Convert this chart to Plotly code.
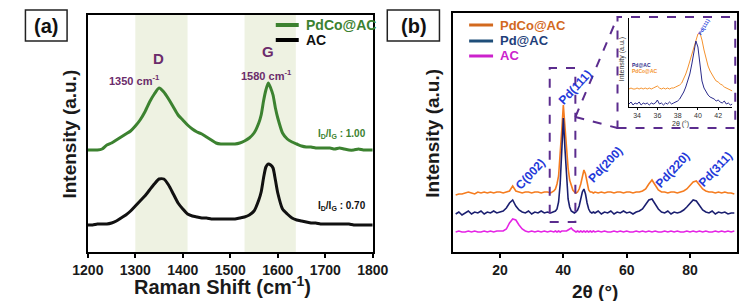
import plotly.graph_objects as go

# ---------------- Panel (a): Raman ----------------
RAMAN_SHIFT = [1200, 1210, 1220, 1230, 1240, 1250, 1260, 1270, 1280, 1290,
               1300, 1310, 1320, 1330, 1340, 1350, 1360, 1370, 1380, 1390,
               1400, 1410, 1420, 1430, 1440, 1450, 1460, 1470, 1480, 1490,
               1500, 1510, 1520, 1530, 1540, 1550, 1560, 1565, 1570, 1575,
               1580, 1585, 1590, 1595, 1600, 1610, 1620, 1630, 1640, 1650,
               1660, 1670, 1680, 1690, 1700, 1710, 1720, 1730, 1740, 1750,
               1760, 1770, 1780, 1790, 1800]
RAMAN_PDCO_AC = [102, 102, 102, 103, 107, 109, 112, 115, 118, 121,
                 126, 132, 140, 150, 158, 164, 160, 153, 145, 137,
                 132, 127, 123, 120, 118, 115, 112, 109, 108, 108,
                 108, 108, 109, 111, 114, 119, 129, 137, 151, 162,
                 169, 164, 157, 144, 134, 119, 113, 110, 108, 106,
                 105, 105, 104, 104, 104, 104, 103, 104, 103, 102,
                 102, 103, 102, 102, 102]
RAMAN_AC = [27, 27, 28, 28, 28, 29, 31, 34, 37, 41,
            46, 51, 56, 62, 68, 73, 73, 67, 58, 49,
            43, 38, 36, 35, 34, 34, 33, 33, 33, 33,
            33, 33, 34, 35, 37, 41, 52, 60, 74, 85,
            88, 87, 84, 72, 59, 43, 38, 34, 32, 31,
            30, 29, 29, 28, 28, 28, 28, 28, 28, 28,
            27, 27, 27, 27, 27]
RAMAN_TICKS = [1200, 1300, 1400, 1500, 1600, 1700, 1800]
D_BAND = [1300, 1410]
G_BAND = [1530, 1638]

# ---------------- Panel (b): XRD ----------------
TWO_THETA = [6, 7, 8, 9, 10, 11, 12, 13, 14, 15, 16, 17, 18, 19, 20, 21, 22, 23, 24, 25,
             26, 27, 28, 29, 30, 31, 32, 33, 34, 35, 36,
             37.0, 37.5, 38.0, 38.5, 39.0, 39.5, 40.0, 40.5, 41.0, 41.5, 42.0, 42.5, 43.0,
             43.5, 44.0, 44.5, 45.0, 45.5, 46.0, 46.5, 47.0, 47.5, 48.0, 48.5, 49.0, 49.5, 50.0,
             51, 52, 53, 54, 55, 56, 57, 58, 59, 60, 61, 62, 63, 64, 65, 66, 67, 68, 69, 70,
             71, 72, 73, 74, 75, 76, 77, 78, 79, 80, 81, 82, 83, 84, 85, 86, 87, 88, 89, 90,
             91, 92, 93, 94]
XRD_PDCO_AC = [57, 58, 58, 59, 60, 59, 58, 60, 59, 60, 59, 60, 59, 60, 60, 59, 60, 61, 66, 61,
               60, 59, 60, 60, 59, 60, 60, 59, 60, 60, 59,
               61, 63, 68, 76, 95, 122, 147, 128, 100, 84, 72, 66, 62,
               60, 59, 60, 63, 68, 76, 82, 78, 68, 62, 60, 60, 59, 60,
               59, 60, 59, 60, 60, 59, 60, 60, 59, 60, 60, 59, 60, 60, 61, 63, 68, 72, 67, 62,
               60, 60, 59, 60, 60, 59, 60, 61, 63, 67, 70, 71, 67, 63, 61, 60, 60, 59, 60, 59,
               60, 59, 59, 58]
XRD_PD_AC = [38, 40, 37, 39, 41, 38, 40, 39, 41, 38, 40, 39, 41, 39, 40, 41, 44, 49, 52, 46,
             42, 40, 39, 41, 38, 40, 39, 41, 39, 40, 39,
             40, 41, 43, 50, 68, 103, 134, 104, 72, 53, 45, 41, 40,
             39, 40, 42, 46, 53, 60, 63, 58, 49, 43, 40, 39, 40, 39,
             41, 38, 40, 39, 41, 38, 40, 39, 41, 39, 40, 38, 40, 41, 43, 47, 52, 53, 48, 43,
             40, 39, 41, 38, 40, 39, 40, 42, 45, 49, 52, 51, 47, 42, 40, 39, 41, 38, 40, 39,
             40, 38, 39, 39]
XRD_AC = [20, 21, 20, 20, 21, 20, 21, 20, 20, 21, 20, 21, 20, 21, 21, 21, 23, 29, 33, 32,
          27, 23, 21, 20, 21, 20, 21, 20, 21, 20, 21,
          20, 21, 20, 21, 20, 21, 21, 21, 21, 22, 23, 24, 22,
          21, 20, 21, 20, 21, 20, 21, 20, 21, 20, 21, 20, 21, 20,
          21, 20, 21, 20, 20, 21, 20, 21, 20, 21, 20, 20, 21, 20, 21, 20, 21, 20, 21, 20,
          20, 21, 20, 21, 20, 21, 20, 20, 21, 20, 21, 20, 21, 20, 21, 20, 20, 21, 20, 21,
          20, 21, 20, 21]
XRD_TICKS = [20, 40, 60, 80]
ZOOM_BOX = [35.7, 43.8, 30, 184]   # x0, x1, y0, y1 of the dashed zoom region

# ---------------- Inset: zoom of Pd(111) ----------------
INSET_2THETA = [33.2, 33.4, 33.6, 33.8, 34.0, 34.2, 34.4, 34.6, 34.8, 35.0,
                35.2, 35.4, 35.6, 35.8, 36.0, 36.2, 36.4, 36.6, 36.8, 37.0,
                37.2, 37.4, 37.6, 37.8, 38.0, 38.2, 38.4, 38.6, 38.8, 39.0,
                39.2, 39.4, 39.6, 39.8, 40.0, 40.2, 40.4, 40.6, 40.8, 41.0,
                41.2, 41.4, 41.6, 41.8, 42.0, 42.2, 42.4, 42.6, 42.8, 43.0,
                43.2, 43.4]
INSET_PDCO_AC = [18, 19, 18, 18, 19, 18, 19, 18, 19, 18,
                 19, 18, 19, 20, 21, 19, 18, 19, 18, 19,
                 18, 19, 19, 20, 21, 22, 24, 28, 33, 39,
                 46, 53, 60, 67, 73, 74, 67, 57, 48, 41,
                 36, 32, 29, 26, 25, 23, 22, 20, 19, 18,
                 17, 16]
INSET_PD_AC = [3, 5, 2, 4, 3, 5, 2, 4, 3, 4,
               2, 4, 3, 4, 7, 3, 4, 2, 4, 3,
               5, 3, 4, 5, 6, 8, 11, 15, 20, 26,
               33, 43, 54, 66, 60, 42, 26, 19, 15, 12,
               10, 9, 8, 6, 7, 5, 4, 6, 3, 4,
               2, 3]
INSET_TICKS = [34, 36, 38, 40, 42]

W, H = 749, 301
FONT = "Liberation Sans"
GREEN = "#3c8230"
ORANGE = "#f57c1f"
NAVY = "#1b1f70"
MAGENTA = "#e524e5"
PURPLE_TXT = "#6b2c6b"
DASH_PURPLE = "#5b2c8e"
LABEL_BLUE = "#2439d9"


def px(x):
    return x / W


def py(y):
    return 1 - y / H


fig = go.Figure()

# Panel (a) traces
fig.add_trace(go.Scatter(x=RAMAN_SHIFT, y=RAMAN_PDCO_AC, mode="lines", name="PdCo@AC",
                         line=dict(color=GREEN, width=3, shape="spline", smoothing=0.6),
                         xaxis="x", yaxis="y", showlegend=False))
fig.add_trace(go.Scatter(x=RAMAN_SHIFT, y=RAMAN_AC, mode="lines", name="AC",
                         line=dict(color="#111111", width=3, shape="spline", smoothing=0.6),
                         xaxis="x", yaxis="y", showlegend=False))

# Panel (b) traces
fig.add_trace(go.Scatter(x=TWO_THETA, y=XRD_PDCO_AC, mode="lines", name="PdCo@AC",
                         line=dict(color=ORANGE, width=1.6),
                         xaxis="x2", yaxis="y2", showlegend=False))
fig.add_trace(go.Scatter(x=TWO_THETA, y=XRD_PD_AC, mode="lines", name="Pd@AC",
                         line=dict(color=NAVY, width=1.6),
                         xaxis="x2", yaxis="y2", showlegend=False))
fig.add_trace(go.Scatter(x=TWO_THETA, y=XRD_AC, mode="lines", name="AC",
                         line=dict(color=MAGENTA, width=1.6),
                         xaxis="x2", yaxis="y2", showlegend=False))

# Inset traces
fig.add_trace(go.Scatter(x=INSET_2THETA, y=INSET_PDCO_AC, mode="lines", name="PdCo@AC",
                         line=dict(color="#f4922e", width=1),
                         xaxis="x3", yaxis="y3", showlegend=False))
fig.add_trace(go.Scatter(x=INSET_2THETA, y=INSET_PD_AC, mode="lines", name="Pd@AC",
                         line=dict(color="#2a2a8a", width=1),
                         xaxis="x3", yaxis="y3", showlegend=False))

tickfont = dict(family=FONT, size=14, color="#1a1a1a", weight="bold")

fig.update_layout(
    width=W, height=H,
    margin=dict(l=0, r=0, t=0, b=0),
    paper_bgcolor="white", plot_bgcolor="white",
    xaxis=dict(domain=[px(66.7), px(364.3)], range=[1200, 1800], anchor="y",
               tickvals=RAMAN_TICKS, ticks="outside", ticklen=4, tickwidth=2,
               tickcolor="black", tickfont=tickfont, showline=True, linecolor="black",
               linewidth=2, mirror=True, showgrid=False, zeroline=False),
    yaxis=dict(domain=[py(244), py(7)], range=[0, 237], anchor="x",
               showticklabels=False, ticks="", showline=True, linecolor="black",
               linewidth=2, mirror=True, showgrid=False, zeroline=False),
    xaxis2=dict(domain=[px(448.3), px(745)], range=[5.2, 94.9], anchor="y2",
                tickvals=XRD_TICKS, ticks="outside", ticklen=4, tickwidth=2,
                tickcolor="black", tickfont=tickfont, showline=True, linecolor="black",
                linewidth=2, mirror=True, showgrid=False, zeroline=False),
    yaxis2=dict(domain=[py(244), py(5)], range=[0, 239], anchor="x2",
                showticklabels=False, ticks="", showline=True, linecolor="black",
                linewidth=2, mirror=True, showgrid=False, zeroline=False),
    xaxis3=dict(domain=[px(632), px(740)], range=[33.2, 43.4], anchor="y3",
                tickvals=INSET_TICKS, ticks="outside", ticklen=2, tickwidth=1,
                tickcolor="black", tickfont=dict(family=FONT, size=7, color="#333"),
                showline=True, linecolor="black", linewidth=1, mirror=False,
                showgrid=False, zeroline=False),
    yaxis3=dict(domain=[py(99), py(10)], range=[0, 89], anchor="x3",
                showticklabels=False, ticks="", showline=True, linecolor="black",
                linewidth=1, mirror=False, showgrid=False, zeroline=False),
)

shapes = []
# shaded bands in (a)
for band in (D_BAND, G_BAND):
    shapes.append(dict(type="rect", xref="x", yref="y domain", x0=band[0], x1=band[1],
                       y0=0, y1=1, fillcolor="#eef2e2", line=dict(width=0), layer="below"))
# dashed zoom box in (b)
shapes.append(dict(type="rect", xref="x2", yref="y2", x0=ZOOM_BOX[0], x1=ZOOM_BOX[1],
                   y0=ZOOM_BOX[2], y1=ZOOM_BOX[3],
                   line=dict(color=DASH_PURPLE, width=2, dash="dash")))
# inset border and connector lines
shapes.append(dict(type="rect", xref="paper", yref="paper", x0=px(620), x1=px(743),
                   y0=py(120), y1=py(9), line=dict(color=DASH_PURPLE, width=2, dash="dash")))
shapes.append(dict(type="line", xref="paper", yref="paper", x0=px(576), y0=py(109),
                   x1=px(620), y1=py(9), line=dict(color=DASH_PURPLE, width=2, dash="dash")))
shapes.append(dict(type="line", xref="paper", yref="paper", x0=px(576), y0=py(109),
                   x1=px(620), y1=py(120), line=dict(color=DASH_PURPLE, width=2, dash="dash")))
# panel label boxes
shapes.append(dict(type="rect", xref="paper", yref="paper", x0=px(1.5), x1=px(45),
                   y0=py(33), y1=py(2), line=dict(color="#222", width=1.5)))
shapes.append(dict(type="rect", xref="paper", yref="paper", x0=px(379.5), x1=px(434),
                   y0=py(33), y1=py(2), line=dict(color="#222", width=1.5)))
# legend samples (a)
shapes.append(dict(type="line", xref="paper", yref="paper", x0=px(263), x1=px(287),
                   y0=py(17), y1=py(17), line=dict(color=GREEN, width=4)))
shapes.append(dict(type="line", xref="paper", yref="paper", x0=px(263), x1=px(287),
                   y0=py(32), y1=py(32), line=dict(color="black", width=4)))
# legend samples (b)
for yy, col in ((17, "#d2691e"), (33, "#1f4e79"), (48, "#cc22cc")):
    shapes.append(dict(type="line", xref="paper", yref="paper", x0=px(465), x1=px(490),
                       y0=py(yy), y1=py(yy), line=dict(color=col, width=3)))
fig.update_layout(shapes=shapes)

ann = []


def A(text, x, y, size, color, xref="paper", yref="paper", bold=True, angle=0,
      xanchor="center", yanchor="middle"):
    ann.append(dict(text=text, x=x, y=y, xref=xref, yref=yref, showarrow=False,
                    textangle=angle, xanchor=xanchor, yanchor=yanchor,
                    font=dict(family=FONT, size=size, color=color,
                              weight="bold" if bold else "normal")))


# panel labels
A("(a)", px(23.5), py(18), 20, "#111")
A("(b)", px(407), py(18), 20, "#111")
# axis titles
A("Intensity (a.u.)", px(46.5), py(126), 19, "#1a1a1a", angle=-90)
A("Raman Shift (cm<sup>-1</sup>)", px(207), py(277), 20, "#1a1a1a")
A("Intensity (a.u.)", px(427), py(125), 19, "#1a1a1a", angle=-90)
A("2θ (°)", px(596), py(283), 19, "#1a1a1a")
# (a) legend text
A("PdCo@AC", px(292), py(17), 14, GREEN, xanchor="left")
A("AC", px(292), py(32), 14, "#111", xanchor="left")
# (a) peak labels
A("D", 1348, 194, 15, PURPLE_TXT, xref="x", yref="y")
A("1350 cm<sup>-1</sup>", 1298, 172, 11, PURPLE_TXT, xref="x", yref="y")
A("G", 1580, 201, 15, PURPLE_TXT, xref="x", yref="y")
A("1580 cm<sup>-1</sup>", 1577, 177, 11, PURPLE_TXT, xref="x", yref="y")
A("I<sub>D</sub>/I<sub>G</sub> : 1.00", 1736, 118, 10, GREEN, xref="x", yref="y")
A("I<sub>D</sub>/I<sub>G</sub> : 0.70", 1736, 46, 10, "#111", xref="x", yref="y")
# (b) legend text
A("PdCo@AC", px(495), py(17), 13, "#d2691e", xanchor="left")
A("Pd@AC", px(495), py(33), 13, "#1f3f7a", xanchor="left")
A("AC", px(495), py(48), 13, "#cc22cc", xanchor="left")
# (b) reflection labels (centres in pixel space)
for text, cx, cy in (("C(002)", 529, 166), ("Pd(111)", 576, 79), ("Pd(200)", 607, 157),
                     ("Pd(220)", 677.5, 162), ("Pd(311)", 722.5, 161)):
    A(text, px(cx), py(cy), 12, LABEL_BLUE, angle=-47)
# inset texts
A("Intensity (a.u.)", px(625), py(51), 7, "#333", bold=False, angle=-90)
A("2θ (°)", px(686), py(116), 7, "#333", bold=False)
A("Pd@AC", px(633), py(57), 5, "#2a2a8a", xanchor="left")
A("PdCo@AC", px(633), py(63), 5, "#f4922e", xanchor="left")
A("Pd(111)", px(710), py(19), 5, LABEL_BLUE, angle=-60)
fig.update_layout(annotations=ann)

fig.write_html("out.html")
